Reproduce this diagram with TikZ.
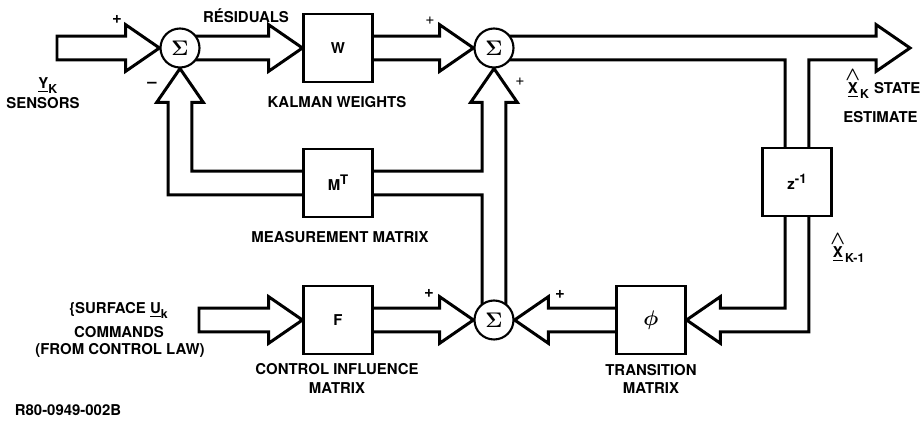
\documentclass[tikz,border=0pt]{standalone}
\usepackage{amsmath}
\usepackage[no-math]{fontspec}
\setmainfont{TeX Gyre Heros}
\usetikzlibrary{calc,backgrounds}

\newcommand{\pipehalf}{6.8pt}
\newcommand{\headhalf}{13.3pt}
\newcommand{\headlen}{19.3pt}
\newcommand{\pipeR}[2]{\draw[pipe] let \p1=(#1), \p2=(#2) in
  (\x1,\y2+\pipehalf) -- (\x2-\headlen,\y2+\pipehalf) -- (\x2-\headlen,\y2+\headhalf) -- (\x2,\y2)
  -- (\x2-\headlen,\y2-\headhalf) -- (\x2-\headlen,\y2-\pipehalf) -- (\x1,\y2-\pipehalf) -- cycle;}
\newcommand{\pipeL}[2]{\draw[pipe] let \p1=(#1), \p2=(#2) in
  (\x1,\y2+\pipehalf) -- (\x2+\headlen,\y2+\pipehalf) -- (\x2+\headlen,\y2+\headhalf) -- (\x2,\y2)
  -- (\x2+\headlen,\y2-\headhalf) -- (\x2+\headlen,\y2-\pipehalf) -- (\x1,\y2-\pipehalf) -- cycle;}
\newcommand{\hatx}{\overset{\text{\fontsize{11}{11}\selectfont$\boldsymbol{\wedge}$}}{\underline{\text{X}}}}
\newcommand{\sub}[1]{_{\text{\fontsize{7}{8}\selectfont #1}}}

\tikzset{
  pipe/.style={line width=1.7pt,line join=miter},
  blk/.style={draw,line width=1.2pt,fill=white,minimum width=1.38cm,minimum height=1.37cm,
    font=\bfseries\fontsize{8.5}{10}\selectfont},
  sum/.style={draw,circle,line width=1.2pt,fill=white,minimum size=0.78cm,inner sep=0pt,
    font=\fontsize{13}{14}\selectfont\boldmath},
  lab/.style={inner sep=0pt,font=\bfseries\fontsize{8.5}{10}\selectfont},
  sgn/.style={inner sep=0pt,font=\bfseries\fontsize{9.5}{10}\selectfont}
}

\begin{document}
\begin{tikzpicture}[x=0.02cm,y=-0.02cm]
  \useasboundingbox (0,0) rectangle (920,421);

  \node[sum] (s1) at (180,48) {$\Sigma$};
  \node[blk] (w) at (338,48) {W};
  \node[sum] (s2) at (494,48) {$\Sigma$};
  \node[blk] (mt) at (338,183) {M\raisebox{0.75ex}{\fontsize{7.5}{8}\selectfont T}};
  \node[blk] (zinv) at (797,182) {z\raisebox{0.75ex}{\fontsize{7.5}{8}\selectfont -1}};
  \node[blk] (f) at (338,320) {F};
  \node[sum] (s3) at (494,320) {$\Sigma$};
  \node[blk,font=\fontsize{12}{12}\selectfont\boldmath] (phi) at (651,320) {$\phi$};
  \coordinate (yin) at (57,48);
  \coordinate (uin) at (199,320);
  \coordinate (xout) at (910,48);

  \begin{scope}[on background layer]
    \pipeR{yin}{s1.west}
    \pipeR{s1.center}{w.west}
    \pipeR{w.center}{s2.west}
    \pipeR{uin}{f.west}
    \pipeR{f.center}{s3.west}
    \pipeL{phi.center}{s3.east}
    \draw[pipe] let \p1=(s2.center), \p2=(xout), \p3=(zinv.center) in
      (\x1,\y2+\pipehalf) -- (\x2-\headlen,\y2+\pipehalf) -- (\x2-\headlen,\y2+\headhalf) -- (\x2,\y2)
      -- (\x2-\headlen,\y2-\headhalf) -- (\x2-\headlen,\y2-\pipehalf) -- (\x3+\pipehalf,\y2-\pipehalf)
      -- (\x3+\pipehalf,\y3) -- (\x3-\pipehalf,\y3) -- (\x3-\pipehalf,\y2-\pipehalf) -- (\x1,\y2-\pipehalf) -- cycle;
    \draw[pipe] let \p1=(zinv.center), \p2=(phi.east) in
      (\x1-\pipehalf,\y1) -- (\x1-\pipehalf,\y2+\pipehalf) -- (\x2+\headlen,\y2+\pipehalf) -- (\x2+\headlen,\y2+\headhalf)
      -- (\x2,\y2) -- (\x2+\headlen,\y2-\headhalf) -- (\x2+\headlen,\y2-\pipehalf) -- (\x1+\pipehalf,\y2-\pipehalf)
      -- (\x1+\pipehalf,\y1) -- cycle;
    \draw[pipe] let \p1=(s3.center), \p2=(s2.south), \p3=(mt.center) in
      (\x1+\pipehalf,\y1) -- (\x1+\pipehalf,\y2-\headlen) -- (\x1+\headhalf,\y2-\headlen) -- (\x2,\y2)
      -- (\x1-\headhalf,\y2-\headlen) -- (\x1-\pipehalf,\y2-\headlen) -- (\x1-\pipehalf,\y3+\pipehalf)
      -- (\x3,\y3+\pipehalf) -- (\x3,\y3-\pipehalf) -- (\x1-\pipehalf,\y3-\pipehalf) -- (\x1-\pipehalf,\y1) -- cycle;
    \draw[pipe] let \p1=(mt.center), \p2=(s1.south) in
      (\x1,\y1+\pipehalf) -- (\x2+\pipehalf,\y1+\pipehalf) -- (\x2+\pipehalf,\y2-\headlen) -- (\x2+\headhalf,\y2-\headlen)
      -- (\x2,\y2) -- (\x2-\headhalf,\y2-\headlen) -- (\x2-\pipehalf,\y2-\headlen) -- (\x2-\pipehalf,\y1-\pipehalf)
      -- (\x1,\y1-\pipehalf) -- cycle;
  \end{scope}

  \node[sgn] (p1) at (117,19) {+};
  \node[sgn] (m1) at (152,85) {--};
  \node[sgn,font=\fontsize{9}{10}\selectfont] (p2) at (430,21) {+};
  \node[sgn,font=\fontsize{9}{10}\selectfont] (p3) at (520,82) {+};
  \node[sgn] (p4) at (429,293) {+};
  \node[sgn] (p5) at (560,294) {+};

  \node[lab] (res) at (246,16) {RÉSIDUALS};
  \node[lab] (kw) at (337,102) {KALMAN WEIGHTS};
  \node[lab,anchor=base west] (yk) at (38,89) {$\underline{\text{Y}}\sub{K}$};
  \node[lab] (sens) at (43,103) {SENSORS};
  \node[lab] (mm) at (340,237) {MEASUREMENT MATRIX};
  \node[lab,anchor=base] (surf) at (119,314) {\{SURFACE $\underline{\text{U}}\sub{k}$};
  \node[lab] (cmd) at (119,332) {COMMANDS};
  \node[lab] (law) at (120,350) {(FROM CONTROL LAW)};
  \node[lab] (ci) at (337,369) {CONTROL INFLUENCE};
  \node[lab] (cim) at (337,388) {MATRIX};
  \node[lab] (tr) at (651,370) {TRANSITION};
  \node[lab] (trm) at (651,388) {MATRIX};
  \node[lab,anchor=base west] (xk) at (845,94) {$\hatx\sub{K}$ STATE};
  \node[lab,anchor=west] (est) at (843,117) {ESTIMATE};
  \node[lab,anchor=base west] (xk1) at (830,258) {$\hatx\sub{K-1}$};
  \node[lab] (ref) at (68,410) {R80-0949-002B};
\end{tikzpicture}
\end{document}
